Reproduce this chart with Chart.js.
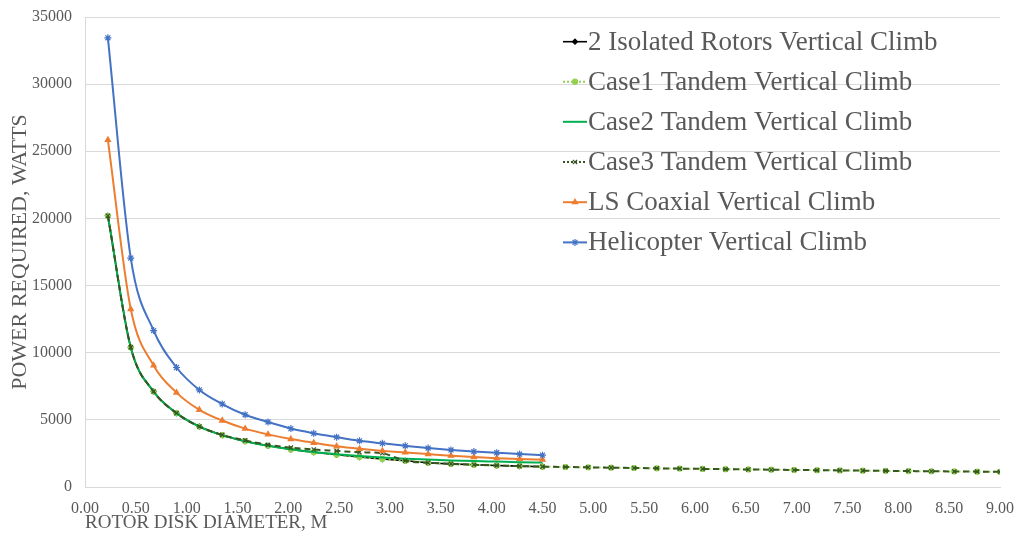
<!DOCTYPE html>
<html>
<head>
<meta charset="utf-8">
<script src="https://cdn.jsdelivr.net/npm/chart.js@4/dist/chart.umd.min.js"></script>
<style>
  html, body { margin: 0; padding: 0; background: #fff; }
  #wrap { width: 1018px; height: 537px; }
</style>
</head>
<body>
<div id="wrap"><canvas id="c" width="1018" height="537"></canvas></div>
<script>
// Rotor disk diameter (m)
const diameters = [0.225, 0.45, 0.675, 0.9, 1.125, 1.35, 1.575, 1.8, 2.025, 2.25,
  2.475, 2.7, 2.925, 3.15, 3.375, 3.6, 3.825, 4.05, 4.275, 4.5,
  4.725, 4.95, 5.175, 5.4, 5.625, 5.85, 6.075, 6.3, 6.525, 6.75,
  6.975, 7.2, 7.425, 7.65, 7.875, 8.1, 8.325, 8.55, 8.775, 9.0];

// Power required (W)
const isolatedRotors = [20200, 10400, 7110, 5500, 4500, 3860, 3410, 3070, 2800, 2590,
  2400, 2230, 2080, 1950, 1810, 1725, 1655, 1600, 1555, 1515];
const case1Tandem = [20200, 10400, 7110, 5500, 4500, 3860, 3410, 3070, 2800, 2590,
  2400, 2230, 2080, 1950, 1810, 1725, 1655, 1600, 1555, 1515,
  1490, 1465, 1440, 1415, 1392, 1370, 1348, 1327, 1307, 1288,
  1270, 1252, 1235, 1218, 1202, 1187, 1172, 1158, 1144, 1130];
const case2Tandem = [20200, 10400, 7110, 5500, 4500, 3860, 3410, 3070, 2810, 2600,
  2440, 2310, 2200, 2110, 2040, 1980, 1930, 1890, 1850, 1820];
const case3Tandem = [20200, 10400, 7110, 5500, 4500, 3880, 3470, 3140, 2930, 2790,
  2690, 2590, 2510, 1950, 1810, 1725, 1655, 1600, 1555, 1515,
  1490, 1465, 1440, 1415, 1392, 1370, 1348, 1327, 1307, 1288,
  1270, 1252, 1235, 1218, 1202, 1187, 1172, 1158, 1144, 1130];
const lsCoaxial = [25850, 13250, 9050, 7030, 5750, 4950, 4350, 3920, 3570, 3290,
  3030, 2840, 2690, 2570, 2450, 2330, 2230, 2150, 2090, 2040];
const helicopter = [33450, 17050, 11650, 8900, 7230, 6180, 5380, 4840, 4350, 4000,
  3710, 3440, 3250, 3070, 2900, 2760, 2640, 2550, 2450, 2370];

const seriesNames = ['2 Isolated Rotors Vertical Climb', 'Case1 Tandem Vertical Climb',
  'Case2 Tandem Vertical Climb', 'Case3 Tandem Vertical Climb',
  'LS Coaxial Vertical Climb', 'Helicopter Vertical Climb'];

const xTickMin = 0, xTickMax = 9, xTickStep = 0.5;
const yTickMin = 0, yTickMax = 35000, yTickStep = 5000;

const SERIF = '"Liberation Serif", "Times New Roman", serif';

function pts(vals) { return vals.map((v, i) => ({ x: diameters[i], y: v })); }

const styles = [
  { color: '#000000', dash: [], width: 1.6, point: 'rectRot', r: 2.5 },
  { color: '#92D050', dash: [2, 3], width: 2, point: 'circle', r: 2.5 },
  { color: '#00B050', dash: [], width: 2, point: false, r: 0 },
  { color: '#375623', dash: [6, 4], width: 2, point: 'crossRot', r: 3 },
  { color: '#ED7D31', dash: [], width: 2, point: 'triangle', r: 3 },
  { color: '#4472C4', dash: [], width: 2, point: 'star', r: 3.5 }
];
const allValues = [isolatedRotors, case1Tandem, case2Tandem, case3Tandem, lsCoaxial, helicopter];

const datasets = allValues.map((vals, i) => ({
  label: seriesNames[i],
  data: pts(vals),
  borderColor: styles[i].color,
  backgroundColor: styles[i].color,
  borderWidth: styles[i].width,
  borderDash: styles[i].dash,
  pointStyle: styles[i].point,
  pointRadius: styles[i].r,
  pointBorderWidth: 1.2,
  pointBorderColor: styles[i].color,
  pointBackgroundColor: styles[i].color,
  cubicInterpolationMode: 'monotone',
  tension: 0.4,
  fill: false,
  order: 6 - i
}));

const legendPlugin = {
  id: 'insideLegend',
  afterDraw(chart) {
    const ctx = chart.ctx;
    const rows = [41.7, 81.7, 121.8, 162, 202.2, 242.4];
    ctx.save();
    ctx.font = '27px ' + SERIF;
    ctx.textBaseline = 'middle';
    ctx.textAlign = 'left';
    chart.data.datasets.forEach((ds, i) => {
      const y = rows[i];
      const st = styles[i];
      ctx.save();
      ctx.strokeStyle = st.color;
      ctx.fillStyle = st.color;
      ctx.lineWidth = st.width;
      ctx.setLineDash(st.dash.length ? [2, 2] : []);
      ctx.beginPath();
      ctx.moveTo(563, y);
      ctx.lineTo(587, y);
      ctx.stroke();
      ctx.setLineDash([]);
      if (st.point) {
        ctx.lineWidth = 1.2;
        Chart.helpers.drawPoint(ctx, { pointStyle: st.point, radius: st.r, rotation: 0, borderWidth: 1.2 }, 575, y);
      }
      ctx.restore();
      ctx.fillStyle = '#595959';
      ctx.fillText(ds.label, 588, y + 1);
    });
    ctx.restore();
  }
};

new Chart(document.getElementById('c'), {
  type: 'line',
  data: { datasets },
  options: {
    responsive: false,
    animation: false,
    layout: { padding: { top: 17, right: 18, left: 0, bottom: 0 } },
    plugins: { legend: { display: false }, tooltip: { enabled: false } },
    scales: {
      x: {
        type: 'linear',
        min: xTickMin, max: xTickMax,
        afterFit(s) { s.height = 50; s.paddingRight = 0; s.paddingLeft = 0; },
        grid: { display: false, drawTicks: false },
        border: { display: true, color: '#D9D9D9', width: 1 },
        ticks: {
          stepSize: xTickStep,
          padding: 12,
          color: '#595959',
          font: { family: SERIF, size: 16 },
          maxRotation: 0,
          autoSkip: false,
          callback: v => Number(v).toFixed(2)
        },
        title: {
          display: true,
          text: 'ROTOR DISK DIAMETER, M',
          align: 'start',
          color: '#595959',
          font: { family: SERIF, size: 19 },
          padding: { top: 0, bottom: 3 }
        }
      },
      y: {
        min: yTickMin, max: yTickMax,
        afterFit(s) { s.width = 85; s.paddingTop = 0; s.paddingBottom = 0; },
        grid: { color: '#D9D9D9', lineWidth: 1, drawTicks: false },
        border: { display: true, color: '#D9D9D9', width: 1 },
        ticks: {
          stepSize: yTickStep,
          padding: 13,
          color: '#595959',
          font: { family: SERIF, size: 16 },
          callback: v => String(v)
        },
        title: {
          display: true,
          text: 'POWER REQUIRED, WATTS',
          color: '#595959',
          font: { family: SERIF, size: 22 },
          padding: { top: 7, bottom: 0 }
        }
      }
    }
  },
  plugins: [legendPlugin]
});
</script>
</body>
</html>
